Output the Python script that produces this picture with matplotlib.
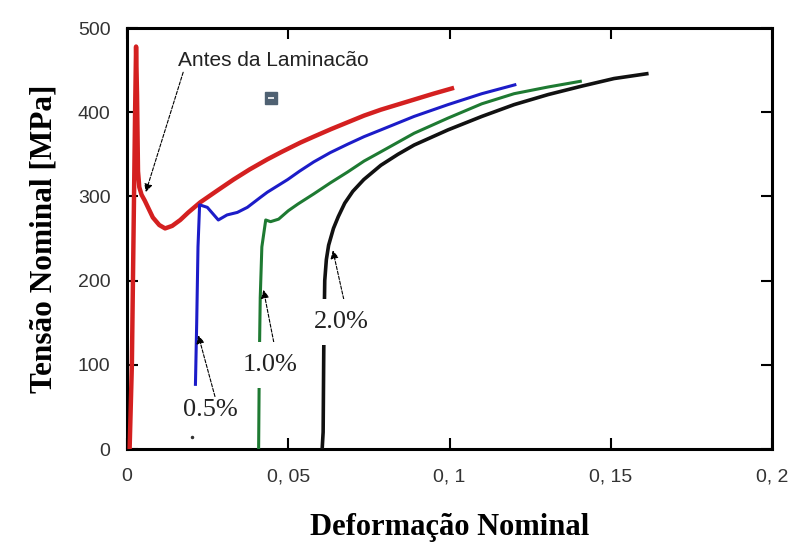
import matplotlib.pyplot as plt

# curvas tensao-deformacao: antes da laminacao e apos pre-deformacao
red_x = [0.0008, 0.0015, 0.002, 0.0025, 0.0028, 0.0031, 0.0034, 0.0038, 0.0045,
         0.0055, 0.0065, 0.008, 0.01, 0.0118, 0.014, 0.0165, 0.019, 0.0227, 0.028, 0.033,
         0.038, 0.0435, 0.048, 0.0538, 0.0579, 0.0633, 0.0684, 0.0735, 0.0787, 0.089,
         0.095, 0.1014]
red_y = [0, 100, 250, 400, 478, 420, 330, 311, 302,
         295, 287, 275, 266, 262, 265, 272, 281, 293, 307, 320,
         332, 344, 353, 364, 371, 380, 388, 396, 403, 415,
         422, 429]

blue_x = [0.0212, 0.0216, 0.022, 0.0225, 0.0249, 0.0283, 0.031, 0.0342, 0.0373, 0.0414, 0.0435,
          0.0498, 0.0535, 0.0579, 0.063, 0.0684, 0.0735, 0.0787, 0.089, 0.0995, 0.11, 0.1207]
blue_y = [75, 150, 240, 290, 287, 272, 278, 281, 287, 299, 305,
          320, 330, 341, 352, 362, 371, 379, 395, 409, 422, 433]

green_x = [0.0408, 0.041, 0.0413, 0.0418, 0.043, 0.0445, 0.047, 0.05, 0.053, 0.0579, 0.063,
           0.0684, 0.0735, 0.0787, 0.089, 0.0995, 0.11, 0.12, 0.1306, 0.141]
green_y = [0, 100, 180, 240, 272, 270, 273, 283, 291, 303, 316,
           329, 342, 353, 375, 393, 410, 422, 430, 437]

black_x = [0.0605, 0.0608, 0.061, 0.0613, 0.0618, 0.0625, 0.064, 0.0655, 0.0675, 0.07, 0.0734,
           0.0787, 0.084, 0.089, 0.0995, 0.11, 0.12, 0.1306, 0.141, 0.151, 0.1617]
black_y = [0, 20, 120, 200, 225, 242, 262, 276, 292, 306, 320,
           337, 350, 361, 379, 395, 409, 421, 431, 440, 446]

x_ticks = [0, 0.05, 0.1, 0.15, 0.2]
x_ticklabels = ['0', '0, 05', '0, 1', '0, 15', '0, 2']
y_ticks = [0, 100, 200, 300, 400, 500]

fig = plt.figure(figsize=(7.91, 5.43), dpi=100)
ax = fig.add_axes([0.1606, 0.1731, 0.8155, 0.7753])

line_kw = dict(solid_joinstyle='round', solid_capstyle='butt', zorder=3)
ax.plot(red_x, red_y, color='#d42020', lw=3.2, **line_kw)
ax.plot(blue_x, blue_y, color='#1c1cc8', lw=2.2, **line_kw)
ax.plot(green_x, green_y, color='#1e7a32', lw=2.2, **line_kw)
ax.plot(black_x, black_y, color='#111111', lw=2.6, **line_kw)

# pequenos marcadores soltos no grafico
ax.plot([0.0445], [417], marker='s', ms=9, color='#4f6172', zorder=4)
ax.plot([0.0445], [417], marker='_', ms=4, mew=1.2, color='white', zorder=5)
ax.plot([0.0202], [14], marker='.', ms=3, color='#333333', zorder=4)

arrow = dict(arrowstyle='-|>', color='black', lw=0.8, linestyle=(0, (3, 1.5)),
             mutation_scale=12, shrinkA=0, shrinkB=0)

ax.annotate('Antes da Laminacão', xy=(0.0058, 305), xytext=(0.0159, 462),
            ha='left', va='center', fontsize=15, family='Liberation Sans',
            color='#222222', arrowprops=dict(arrow, relpos=(0.03, 0.0)), zorder=6)

pct_kw = dict(ha='center', va='center', fontsize=19, family='Liberation Serif',
              color='#222222', zorder=6)
ax.annotate('0.5%', xy=(0.0221, 135), xytext=(0.0258, 46),
            arrowprops=dict(arrow, relpos=(0.6, 1.0)), **pct_kw)
ax.annotate('1.0%', xy=(0.0423, 189), xytext=(0.0445, 100),
            bbox=dict(boxstyle='square,pad=0.45', fc='white', ec='none'),
            arrowprops=dict(arrow, relpos=(0.6, 1.0)), **pct_kw)
ax.annotate('2.0%', xy=(0.0638, 236), xytext=(0.0663, 151),
            bbox=dict(boxstyle='square,pad=0.45', fc='white', ec='none'),
            arrowprops=dict(arrow, relpos=(0.6, 1.0)), **pct_kw)

ax.set_xlim(0, 0.2)
ax.set_ylim(0, 500)
ax.set_xticks(x_ticks)
ax.set_xticklabels(x_ticklabels)
ax.set_yticks(y_ticks)
ax.tick_params(axis='both', direction='in', length=8, width=1.5, labelsize=14,
               labelcolor='#333333', top=True, right=True)
ax.tick_params(axis='x', pad=14)
ax.tick_params(axis='y', pad=12)
for lab in ax.get_xticklabels() + ax.get_yticklabels():
    lab.set_family('Liberation Sans')
for sp in ax.spines.values():
    sp.set_linewidth(2.2)

ax.set_xlabel('Deformação Nominal', family='Liberation Serif', fontweight='bold',
              fontsize=22, labelpad=20)
ax.set_ylabel('Tensão Nominal [MPa]', family='Liberation Serif', fontweight='bold',
              fontsize=22.5, labelpad=14)

fig.savefig('out.png', dpi=100)
